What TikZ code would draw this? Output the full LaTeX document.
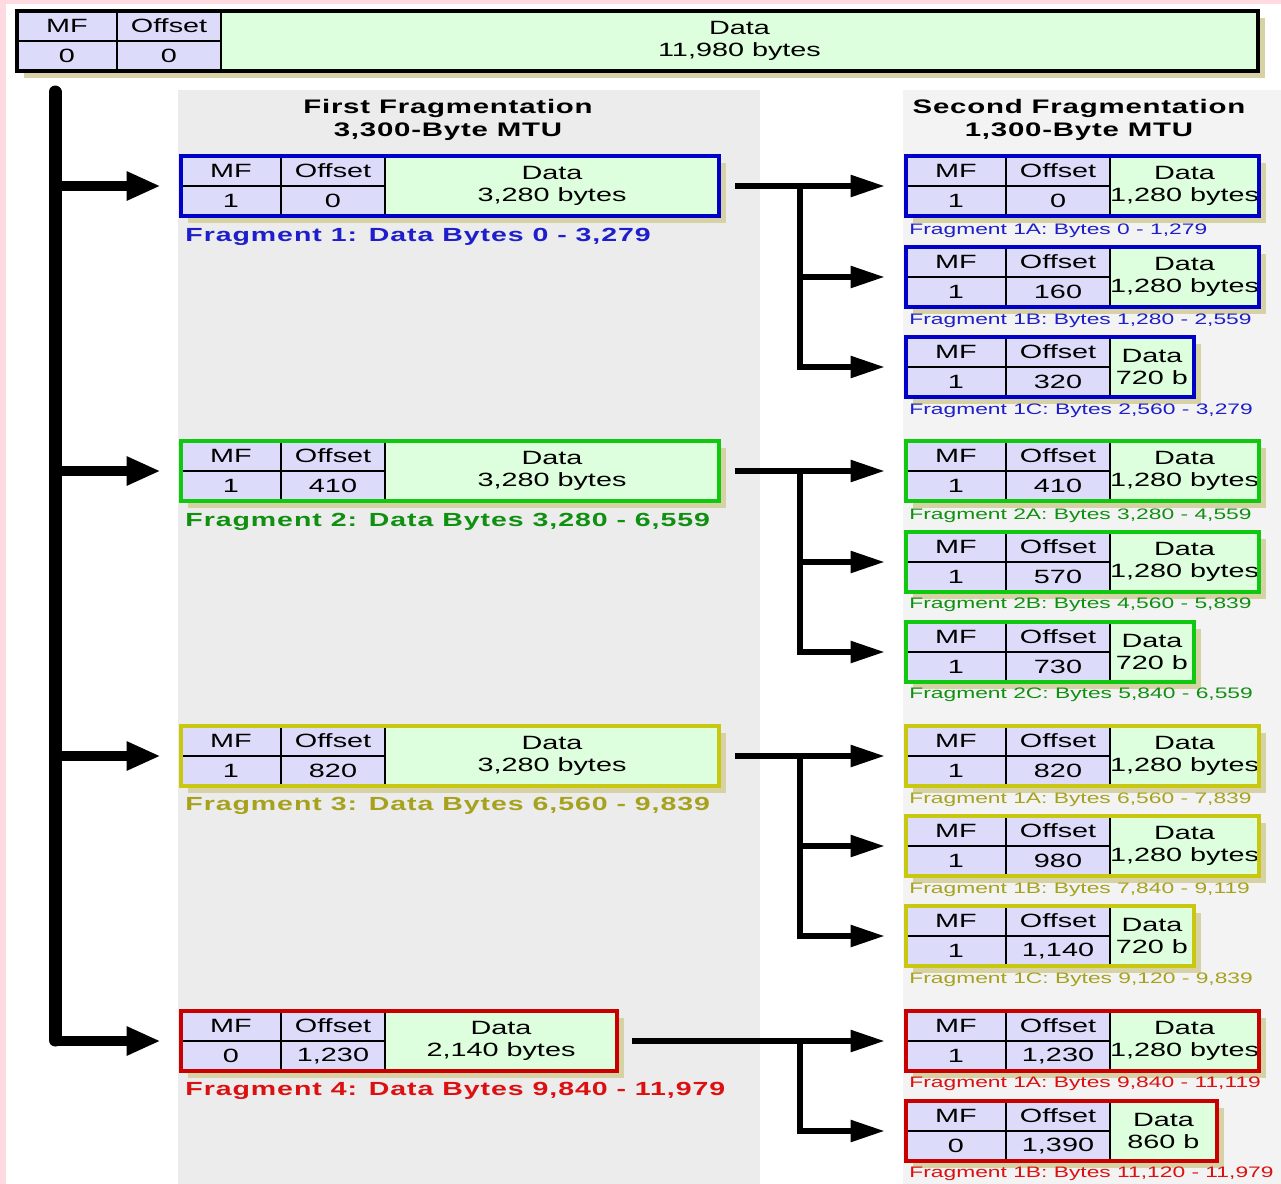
\documentclass[tikz,border=0pt]{standalone}
\usepackage{fontspec}
\setmainfont{Liberation Sans}[FakeStretch=1.5]
\usetikzlibrary{arrows.meta,shadows}

\definecolor{cellblue}{RGB}{220,220,250}
\definecolor{cellgreen}{RGB}{222,255,222}
\definecolor{shade}{RGB}{214,210,166}
\definecolor{panel}{RGB}{236,236,236}
\definecolor{panelb}{RGB}{243,243,243}
\definecolor{pinkish}{RGB}{255,218,224}
\definecolor{bluefr}{RGB}{0,0,200}
\definecolor{greenfr}{RGB}{16,200,16}
\definecolor{olivefr}{RGB}{200,200,16}
\definecolor{redfr}{RGB}{200,0,0}
\definecolor{bluetx}{RGB}{30,30,204}
\definecolor{greentx}{RGB}{16,144,16}
\definecolor{olivetx}{RGB}{166,162,30}
\definecolor{redtx}{RGB}{220,16,16}

% #1 name, #2 left, #3 top, #4 width, #5 frame colour, #6 MF, #7 offset, #8 data
\newcommand{\packet}[8]{
  \node (#1) at (#2+#4/2,#3+30) [frame,minimum width=#4*0.5pt] {};
  \node (#1mfh) at (#2+50,#3+15) [cell] {MF};
  \node (#1mf) at (#2+50,#3+45) [cell] {#6};
  \node (#1offh) at (#2+152,#3+15) [cell,minimum width=52pt] {Offset};
  \node (#1off) at (#2+152,#3+45) [cell,minimum width=52pt] {#7};
  \node (#1data) at (#2+204+#4/2-102,#3+30) [datacell,minimum width=#4*0.5pt-102pt] {#8};
  \draw [#5,line width=2pt] (#1.north west) rectangle (#1.south east);
}

\begin{document}
\begin{tikzpicture}[x=0.5pt,y=-0.5pt]
    \tikzstyle{frame}=[rectangle,inner sep=0pt,minimum height=30pt,fill=cellgreen,
      general shadow={fill=shade,shadow xshift=3.5pt,shadow yshift=-3.5pt}]
    \tikzstyle{cell}=[rectangle,draw=black,line width=1pt,fill=cellblue,inner sep=0pt,
      minimum width=50pt,minimum height=15pt,font=\fontsize{9.6}{11}\selectfont]
    \tikzstyle{datacell}=[rectangle,draw=black,line width=1pt,fill=cellgreen,inner sep=0pt,
      minimum height=30pt,align=center,font=\fontsize{9.6}{11}\selectfont]
    \tikzstyle{title}=[align=center,font=\fontsize{9.8}{11.5}\selectfont\bfseries\addfontfeatures{LetterSpace=4}]
    \tikzstyle{biglabel}=[anchor=west,inner sep=0pt,font=\fontsize{9.5}{12}\selectfont\bfseries\addfontfeatures{LetterSpace=5}]
    \tikzstyle{smalllabel}=[anchor=west,inner sep=0pt,font=\fontsize{7.6}{10}\selectfont]
    \tikzstyle{trunk}=[line width=6.5pt,line cap=round]
    \tikzstyle{bigarrow}=[line width=5pt,-{Triangle[length=17pt,width=13.5pt]},shorten >=10pt]
    \tikzstyle{branch}=[line width=2.75pt,-{Triangle[length=17pt,width=10.5pt]},shorten >=10.5pt]

    % page and panels
    \useasboundingbox (0,0) rectangle (1281,1184);
    \fill [white] (0,0) rectangle (1281,1184);
    \fill [pinkish] (0,0) rectangle (1281,4);
    \fill [pinkish] (0,0) rectangle (6,1184);
    \fill [panel] (178,90) rectangle (760,1184);
    \fill [panelb] (903,90) rectangle (1281,1184);

    \node (head1) at (448,120) [title] {First Fragmentation\\3,300-Byte MTU};
    \node (head2) at (1079,120) [title] {Second Fragmentation\\1,300-Byte MTU};

    % original datagram
    \packet{orig}{17}{11}{1241}{black}{0}{0}{Data\\11,980 bytes}

    % first fragmentation
    \packet{f1}{181}{156}{538}{bluefr}{1}{0}{Data\\3,280 bytes}
    \packet{f2}{181}{441}{538}{greenfr}{1}{410}{Data\\3,280 bytes}
    \packet{f3}{181}{726}{538}{olivefr}{1}{820}{Data\\3,280 bytes}
    \packet{f4}{181}{1011}{436}{redfr}{0}{1,230}{Data\\2,140 bytes}
    \node (lab1) at (185,237) [biglabel,bluetx] {Fragment 1: Data Bytes 0 - 3,279};
    \node (lab2) at (185,522) [biglabel,greentx] {Fragment 2: Data Bytes 3,280 - 6,559};
    \node (lab3) at (185,806) [biglabel,olivetx] {Fragment 3: Data Bytes 6,560 - 9,839};
    \node (lab4) at (185,1091) [biglabel,redtx] {Fragment 4: Data Bytes 9,840 - 11,979};

    % second fragmentation
    \packet{s1a}{906}{156}{353}{bluefr}{1}{0}{Data\\1,280 bytes}
    \packet{s1b}{906}{247}{353}{bluefr}{1}{160}{Data\\1,280 bytes}
    \packet{s1c}{906}{337}{288}{bluefr}{1}{320}{Data\\720 b}
    \packet{s2a}{906}{441}{353}{greenfr}{1}{410}{Data\\1,280 bytes}
    \packet{s2b}{906}{532}{353}{greenfr}{1}{570}{Data\\1,280 bytes}
    \packet{s2c}{906}{622}{288}{greenfr}{1}{730}{Data\\720 b}
    \packet{s3a}{906}{726}{353}{olivefr}{1}{820}{Data\\1,280 bytes}
    \packet{s3b}{906}{816}{353}{olivefr}{1}{980}{Data\\1,280 bytes}
    \packet{s3c}{906}{906}{288}{olivefr}{1}{1,140}{Data\\720 b}
    \packet{s4a}{906}{1011}{353}{redfr}{1}{1,230}{Data\\1,280 bytes}
    \packet{s4b}{906}{1101}{311}{redfr}{0}{1,390}{Data\\860 b}
    \node (lab1a) at (909,231) [smalllabel,bluetx] {Fragment 1A: Bytes 0 - 1,279};
    \node (lab1b) at (909,321) [smalllabel,bluetx] {Fragment 1B: Bytes 1,280 - 2,559};
    \node (lab1c) at (909,411) [smalllabel,bluetx] {Fragment 1C: Bytes 2,560 - 3,279};
    \node (lab2a) at (909,516) [smalllabel,greentx] {Fragment 2A: Bytes 3,280 - 4,559};
    \node (lab2b) at (909,605) [smalllabel,greentx] {Fragment 2B: Bytes 4,560 - 5,839};
    \node (lab2c) at (909,695) [smalllabel,greentx] {Fragment 2C: Bytes 5,840 - 6,559};
    \node (lab3a) at (909,800) [smalllabel,olivetx] {Fragment 1A: Bytes 6,560 - 7,839};
    \node (lab3b) at (909,890) [smalllabel,olivetx] {Fragment 1B: Bytes 7,840 - 9,119};
    \node (lab3c) at (909,980) [smalllabel,olivetx] {Fragment 1C: Bytes 9,120 - 9,839};
    \node (lab4a) at (909,1084) [smalllabel,redtx] {Fragment 1A: Bytes 9,840 - 11,119};
    \node (lab4b) at (909,1174) [smalllabel,redtx] {Fragment 1B: Bytes 11,120 - 11,979};

    % left trunk and arrows
    \coordinate (bartop) at (55,92);
    \coordinate (barbot) at (55,1040);
    \draw [trunk] (bartop) -- (barbot);
    \draw [bigarrow] (bartop |- f1.west) -- (f1.west);
    \draw [bigarrow] (bartop |- f2.west) -- (f2.west);
    \draw [bigarrow] (bartop |- f3.west) -- (f3.west);
    \draw [bigarrow] (bartop |- f4.west) -- (f4.west);

    % branches
    \coordinate (split) at (800,0);
    \draw [branch,shorten <=8pt] (f1.east) -- (s1a.west);
    \draw [branch] (split |- f1.east) |- (s1b.west);
    \draw [branch] (split |- f1.east) |- (s1c.west);
    \draw [branch,shorten <=8pt] (f2.east) -- (s2a.west);
    \draw [branch] (split |- f2.east) |- (s2b.west);
    \draw [branch] (split |- f2.east) |- (s2c.west);
    \draw [branch,shorten <=8pt] (f3.east) -- (s3a.west);
    \draw [branch] (split |- f3.east) |- (s3b.west);
    \draw [branch] (split |- f3.east) |- (s3c.west);
    \draw [branch,shorten <=7.5pt] (f4.east) -- (s4a.west);
    \draw [branch] (split |- f4.east) |- (s4b.west);
\end{tikzpicture}
\end{document}
